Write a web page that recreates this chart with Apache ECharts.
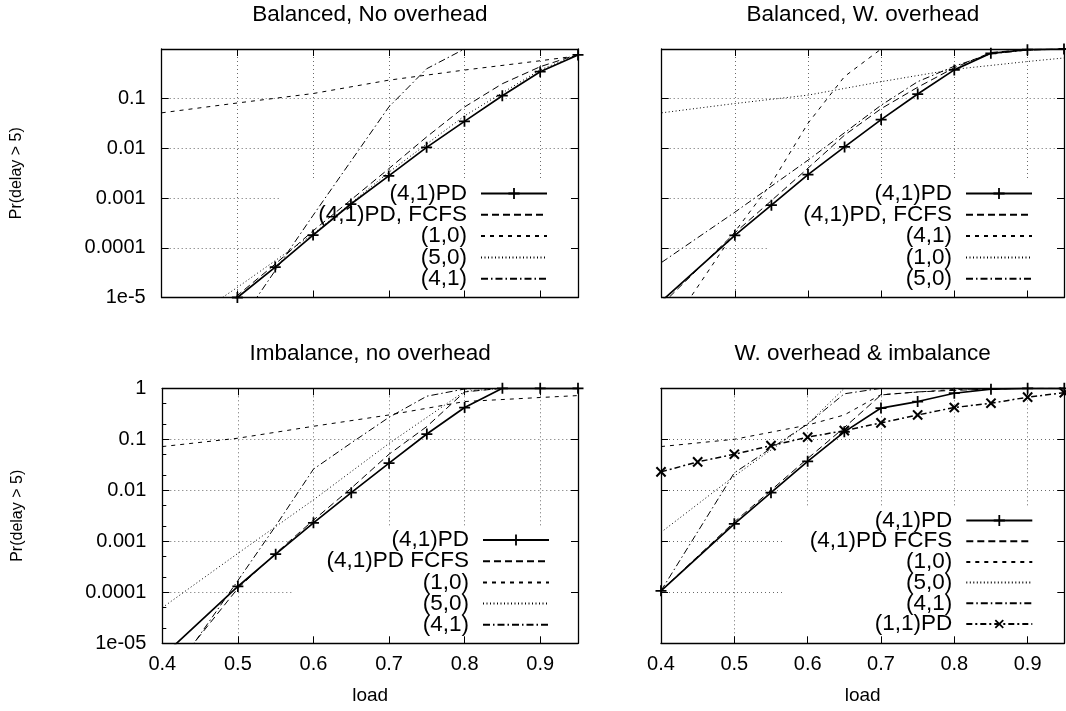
<!DOCTYPE html>
<html><head><meta charset="utf-8">
<script src="https://cdn.jsdelivr.net/npm/echarts@6/dist/echarts.min.js"></script>
<style>html,body{margin:0;padding:0;background:#fff}#c{width:1066px;height:711px}</style>
</head><body><div id="c"></div>
<script>
// ---------------- data ----------------
const loadsPD = [0.4, 0.5, 0.55, 0.6, 0.65, 0.7, 0.75, 0.8, 0.85, 0.9, 0.95];
const loadsDecile = [0.4, 0.5, 0.6, 0.7, 0.8, 0.9, 0.95];
const loadsFine = [0.4, 0.45, 0.5, 0.55, 0.6, 0.65, 0.7, 0.75, 0.8, 0.85, 0.9, 0.95];

// Balanced, No overhead
const tlPD   = [3e-7, 1.0e-5, 4.1e-5, 1.8e-4, 7.6e-4, 2.8e-3, 0.0105, 0.035, 0.115, 0.35, 0.76];
const tlFCFS = [5e-7, 1.1e-5, 4.7e-5, 2.2e-4, 9.2e-4, 3.9e-3, 0.017, 0.068, 0.2, 0.44, 0.78];
const tl10   = [0.052, 0.082, 0.127, 0.236, 0.377, 0.58, 0.73];
const tl50   = [1.5e-6, 1.6e-5, 1.9e-4, 3.3e-3, 0.045, 0.38, 0.77];
const tl41Loads = [0.5, 0.6, 0.7, 0.75, 0.8];
const tl41   = [2.7e-6, 4.5e-4, 0.068, 0.4, 1.0];

// Balanced, W. overhead
const trPD   = [8.5e-6, 1.78e-4, 7.2e-4, 2.97e-3, 0.0107, 0.038, 0.124, 0.38, 0.82, 0.97, 1.0];
const trFCFS = [7.2e-6, 2.0e-4, 8.9e-4, 4.0e-3, 0.0185, 0.063, 0.17, 0.42, 0.85, 0.98, 1.0];
const tr41Loads = [0.4, 0.5, 0.55, 0.6, 0.65, 0.7];
const tr41   = [1.4e-6, 2.1e-4, 2.0e-3, 0.032, 0.28, 1.0];
const tr10   = [0.052, 0.08, 0.118, 0.22, 0.39, 0.56, 0.66];
const tr50Loads = [0.4, 0.5, 0.6, 0.7, 0.75, 0.8, 0.85, 0.9, 0.95];
const tr50   = [5.1e-5, 5.2e-4, 5.8e-3, 0.074, 0.22, 0.45, 0.8, 0.95, 1.0];

// Imbalance, no overhead
const blPD   = [5.5e-6, 1.3e-4, 5.6e-4, 2.3e-3, 9.0e-3, 0.034, 0.127, 0.42, 1.0, 1.0, 1.0];
const blFCFSLoads = [0.4, 0.5, 0.55, 0.6, 0.65, 0.7, 0.75, 0.8, 0.85];
const blFCFS = [1.7e-6, 1.2e-4, 5.8e-4, 2.6e-3, 0.011, 0.051, 0.178, 0.85, 1.0];
const bl10   = [0.072, 0.105, 0.18, 0.3, 0.55, 0.66, 0.72];
const bl50Loads = [0.4, 0.5, 0.6, 0.7, 0.8, 0.85];
const bl50   = [5e-5, 5.8e-4, 6.5e-3, 0.083, 0.87, 1.0];
const bl41Loads = [0.4, 0.5, 0.55, 0.6, 0.65, 0.7, 0.75, 0.8, 0.85];
const bl41   = [1.3e-6, 1.7e-4, 2.0e-3, 0.026, 0.085, 0.27, 0.7, 0.97, 1.0];

// W. overhead & imbalance
const brPD   = [1.07e-4, 2.2e-3, 9.0e-3, 0.037, 0.14, 0.41, 0.55, 0.8, 0.96, 1.0, 1.0];
const brFCFS = [1.07e-4, 2.4e-3, 0.010, 0.042, 0.17, 0.74, 0.85, 0.91, 0.97, 1.0, 1.0];
const br10Loads = [0.4, 0.5, 0.6, 0.65, 0.7, 0.8, 0.9, 0.95];
const br10   = [0.072, 0.1, 0.19, 0.3, 0.75, 0.95, 1.0, 1.0];
const br50Loads = [0.4, 0.5, 0.6, 0.65];
const br50   = [1.5e-3, 0.019, 0.2, 1.0];
const br41Loads = [0.4, 0.5, 0.6, 0.65, 0.7];
const br41   = [1.07e-4, 0.022, 0.2, 0.78, 1.0];
const br11   = [0.023, 0.036, 0.051, 0.075, 0.11, 0.148, 0.21, 0.3, 0.42, 0.51, 0.67, 0.82];

// tick labels
const xTickLabels = ['0.4', '0.5', '0.6', '0.7', '0.8', '0.9'];
const yTickLabelsTop = ['1e-5', '0.0001', '0.001', '0.01', '0.1', ''];
const yTickLabelsBottom = ['1e-05', '0.0001', '0.001', '0.01', '0.1', '1'];
const blMinorTicks = [2e-5, 5e-5, 2e-4, 5e-4, 2e-3, 5e-3, 0.02, 0.05, 0.2, 0.5];

const titles = ['Balanced, No overhead', 'Balanced, W. overhead', 'Imbalance, no overhead', 'W. overhead & imbalance'];

// ---------------- layout / style ----------------
const W = 1066, H = 711;
const FONT = 'Liberation Sans, Arial, Helvetica, sans-serif';
const TICK_FS = 20, TITLE_FS = 22.5, LEG_FS = 22.5, XNAME_FS = 19, YNAME_FS = 16;

const STY = {
  solid:      { type: 'solid', width: 1.7 },
  long:       { type: [7, 4], width: 1 },
  short:      { type: [4, 5], width: 1 },
  dot:        { type: [1, 2.5], width: 1 },
  dashdot:    { type: [7, 3, 1.5, 3], width: 1 },
  dashdotdot: { type: [6, 3, 2, 3], width: 1.5 }
};
const PLUS = 'path://M4.2,0H5.8V4.2H10V5.8H5.8V10H4.2V5.8H0V4.2H4.2Z';

const panels = [
  { grid: { left: 161.7, top: 49, right: W - 578, bottom: H - 297.5 }, bottomRow: false, leftCol: true,
    legend: { right: W - 578, top: 181, gap: -1.7, padR: 30, padB: 7.5, boxLeft: 280 },
    series: [
      ['(4,1)PD', loadsPD, tlPD, 'solid', 'plus'],
      ['(4,1)PD, FCFS', loadsPD, tlFCFS, 'long'],
      ['(1,0)', loadsDecile, tl10, 'short'],
      ['(5,0)', loadsDecile, tl50, 'dot'],
      ['(4,1)', tl41Loads, tl41, 'dashdot']
    ] },
  { grid: { left: 661.7, top: 49, right: W - 1064, bottom: H - 297.5 }, bottomRow: false, leftCol: false,
    legend: { right: W - 1064, top: 181, gap: -1.7, padR: 31, padB: 7.5, boxLeft: 768 },
    series: [
      ['(4,1)PD', loadsPD, trPD, 'solid', 'plus'],
      ['(4,1)PD, FCFS', loadsPD, trFCFS, 'long'],
      ['(4,1)', tr41Loads, tr41, 'short'],
      ['(1,0)', loadsDecile, tr10, 'dot'],
      ['(5,0)', tr50Loads, tr50, 'dashdot']
    ] },
  { grid: { left: 162.3, top: 388.3, right: W - 578, bottom: H - 643.3 }, bottomRow: true, leftCol: true,
    legend: { right: W - 578, top: 527.5, gap: -1.8, padR: 28, padB: 6.5, boxLeft: 295 },
    series: [
      ['(4,1)PD', loadsPD, blPD, 'solid', 'plus'],
      ['(4,1)PD FCFS', blFCFSLoads, blFCFS, 'long'],
      ['(1,0)', loadsDecile, bl10, 'short'],
      ['(5,0)', bl50Loads, bl50, 'dot'],
      ['(4,1)', bl41Loads, bl41, 'dashdot']
    ] },
  { grid: { left: 661, top: 388.3, right: W - 1064.3, bottom: H - 643.3 }, bottomRow: true, leftCol: false,
    legend: { right: W - 1064.3, top: 508, gap: -2.3, padR: 31, padB: 7, boxLeft: 783 },
    series: [
      ['(4,1)PD', loadsPD, brPD, 'solid', 'plus'],
      ['(4,1)PD FCFS', loadsPD, brFCFS, 'long'],
      ['(1,0)', br10Loads, br10, 'short'],
      ['(5,0)', br50Loads, br50, 'dot'],
      ['(4,1)', br41Loads, br41, 'dashdot'],
      ['(1,1)PD', loadsFine, br11, 'dashdotdot', 'cross']
    ] }
];

const measure = document.createElement('canvas').getContext('2d');
measure.font = LEG_FS + 'px ' + FONT;

const gridLine = { color: '#444', width: 0.8, type: [1, 3] };
const boxLine = { show: true, onZero: false, lineStyle: { color: '#000', width: 1.3 } };
const boxTick = { show: true, inside: true, length: 7, lineStyle: { color: '#000', width: 1 } };
const txt = (fs) => ({ fontSize: fs, color: '#000', fontFamily: FONT });

const option = { animation: false, backgroundColor: '#fff', grid: [], xAxis: [], yAxis: [], title: [], legend: [], series: [] };

panels.forEach((p, gi) => {
  option.grid.push(Object.assign({ outerBoundsMode: 'none', containLabel: false }, p.grid));
  const plotW = W - p.grid.left - p.grid.right;
  option.title.push({
    text: titles[gi], left: p.grid.left + plotW / 2, top: p.grid.top - 46, textAlign: 'center', padding: 0,
    textStyle: Object.assign(txt(TITLE_FS), { fontWeight: 'normal' })
  });
  const xBase = { type: 'value', gridIndex: gi, min: 0.4, max: 0.95, interval: 0.1 };
  option.xAxis.push(Object.assign({}, xBase, {
    position: 'bottom', z: 0,
    axisLine: { show: false, onZero: false }, axisTick: { show: false },
    axisLabel: Object.assign(txt(TICK_FS), {
      show: p.bottomRow, margin: 11, showMaxLabel: false,
      formatter: (v) => { const i = Math.round((v - 0.4) * 10); return (Math.abs(v - 0.4 - i * 0.1) < 1e-6 && xTickLabels[i]) ? xTickLabels[i] : ''; }
    }),
    splitLine: { show: true, lineStyle: gridLine },
    name: p.bottomRow ? 'load' : '', nameLocation: 'middle', nameGap: 43, nameTextStyle: txt(XNAME_FS)
  }));
  option.xAxis.push(Object.assign({}, xBase, { position: 'bottom', z: 3, axisLine: boxLine, axisTick: boxTick, axisLabel: { show: false }, splitLine: { show: false } }));
  option.xAxis.push(Object.assign({}, xBase, { position: 'top', z: 3, axisLine: boxLine, axisTick: boxTick, axisLabel: { show: false }, splitLine: { show: false } }));

  const yBase = { type: 'log', logBase: 10, gridIndex: gi, min: 1e-5, max: 1, splitNumber: 5 };
  const yLabels = p.bottomRow ? yTickLabelsBottom : yTickLabelsTop;
  option.yAxis.push(Object.assign({}, yBase, {
    position: 'left', z: 0,
    axisLine: { show: false, onZero: false }, axisTick: { show: false },
    axisLabel: Object.assign(txt(TICK_FS), {
      show: p.leftCol, margin: 16,
      formatter: (v) => { const e = Math.round(Math.log10(v)) + 5; return yLabels[e] !== undefined ? yLabels[e] : ''; }
    }),
    splitLine: { show: true, lineStyle: gridLine },
    name: p.leftCol ? 'Pr(delay > 5)' : '', nameLocation: 'middle', nameGap: 137, nameRotate: 90, nameTextStyle: txt(YNAME_FS)
  }));
  option.yAxis.push(Object.assign({}, yBase, { position: 'left', z: 3, axisLine: boxLine, axisTick: boxTick, axisLabel: { show: false }, splitLine: { show: false } }));
  option.yAxis.push(Object.assign({}, yBase, { position: 'right', z: 3, axisLine: boxLine, axisTick: boxTick, axisLabel: { show: false }, splitLine: { show: false } }));
  option.yAxis.push(Object.assign({}, yBase, {
    position: 'left', z: 3, axisLine: { show: false, onZero: false },
    axisTick: { show: gi === 2, inside: true, length: 4, customValues: blMinorTicks, lineStyle: { color: '#000', width: 1 } },
    axisLabel: { show: false }, splitLine: { show: false }
  }));

  // legend
  const names = p.series.map(s => 'P' + gi + '|' + s[0]);
  const maxText = Math.max.apply(null, p.series.map(s => measure.measureText(s[0]).width));
  const ICON_W = 66, TEXT_PAD = 9;
  const boxRight = W - p.legend.right;
  const padL = Math.max(0, boxRight - p.legend.padR - ICON_W - 5 - TEXT_PAD - maxText - p.legend.boxLeft);
  option.legend.push({
    orient: 'vertical', align: 'right', right: p.legend.right, top: p.legend.top, z: 1,
    backgroundColor: '#fff', padding: [1, p.legend.padR, p.legend.padB, padL],
    itemWidth: ICON_W, itemHeight: 14, itemGap: p.legend.gap, selectedMode: false,
    textStyle: Object.assign(txt(LEG_FS), { padding: [0, TEXT_PAD, 0, 0] }),
    data: names, formatter: (n) => n.split('|')[1]
  });

  p.series.forEach((s, si) => {
    const [label, loads, vals, sty, marker] = s;
    const st = STY[sty];
    const ser = {
      type: 'line', name: names[si], xAxisIndex: gi * 3, yAxisIndex: gi * 4, z: 2, silent: true, clip: true,
      data: loads.map((x, i) => [x, vals[i]]),
      lineStyle: { color: '#000', width: st.width, type: st.type },
      itemStyle: { color: 'rgba(0,0,0,0)' },
      symbol: 'none'
    };
    if (marker === 'plus') { ser.symbol = PLUS; ser.symbolSize = 11; ser.showSymbol = true; ser.itemStyle = { color: '#000' }; }
    if (marker === 'cross') { ser.symbol = PLUS; ser.symbolSize = 13; ser.symbolRotate = 45; ser.showSymbol = true; ser.itemStyle = { color: '#000' }; }
    option.series.push(ser);
  });
});

const chart = echarts.init(document.getElementById('c'), null, { renderer: 'canvas' });
chart.setOption(option);
</script></body></html>
